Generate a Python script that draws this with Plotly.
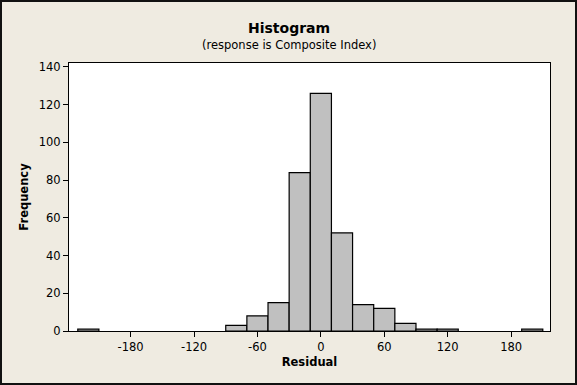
import plotly.graph_objects as go

bin_centers = [-220, -80, -60, -40, -20, 0, 20, 40, 60, 80, 100, 120, 200]
frequencies = [1, 3, 8, 15, 84, 126, 52, 14, 12, 4, 1, 1, 1]
x_tick_vals = [-180, -120, -60, 0, 60, 120, 180]
x_tick_text = ["-180", "-120", "-60", "0", "60", "120", "180"]
y_tick_vals = [0, 20, 40, 60, 80, 100, 120, 140]
bin_width = 20

FONT = "DejaVu Sans"
BG = "#EFEBE1"

fig = go.Figure()
fig.add_trace(go.Bar(
    x=bin_centers, y=frequencies, width=bin_width,
    marker=dict(color="#C0C0C0", line=dict(color="black", width=1.2)),
    hoverinfo="x+y",
))

W, H = 577, 385
L, R, T, B = 69, 27, 63, 54
pw, ph = W - L - R, H - T - B

def py(pixel_y):
    return (H - B - pixel_y) / ph

def px(pixel_x):
    return (pixel_x - L) / pw

fig.update_layout(
    width=W, height=H,
    margin=dict(l=L, r=R, t=T, b=B, pad=0),
    paper_bgcolor=BG, plot_bgcolor="white",
    showlegend=False,
    font=dict(family=FONT, size=11.5, color="black"),
    xaxis=dict(
        range=[-238.3, 216.8], tickvals=x_tick_vals, ticktext=x_tick_text,
        showline=True, mirror=True, linecolor="black", linewidth=1,
        ticks="outside", ticklen=5, tickcolor="black", tickwidth=1,
        showgrid=False, zeroline=False,
        title=dict(text="<b>Residual</b>", standoff=5, font=dict(size=11.5)),
        tickfont=dict(size=11.5),
    ),
    yaxis=dict(
        range=[0, 142.1], tickvals=y_tick_vals,
        showline=True, mirror=True, linecolor="black", linewidth=1,
        ticks="outside", ticklen=5, tickcolor="black", tickwidth=1,
        showgrid=False, zeroline=False,
        title=dict(text="<b>Frequency</b>", standoff=7, font=dict(size=11.5)),
        tickfont=dict(size=11.5),
    ),
)

fig.add_annotation(
    text="<b>Histogram</b>", xref="paper", yref="paper",
    x=px(288.5), y=py(28), xanchor="center", yanchor="middle",
    showarrow=False, font=dict(family=FONT, size=14, color="black"),
)
fig.add_annotation(
    text="(response is Composite Index)", xref="paper", yref="paper",
    x=px(288.5), y=py(45), xanchor="center", yanchor="middle",
    showarrow=False, font=dict(family=FONT, size=11.5, color="black"),
)

# outer frame around the whole image
fig.add_shape(
    type="rect", xref="paper", yref="paper",
    x0=-(L - 1) / pw, x1=1 + (R - 1) / pw,
    y0=-(B - 1) / ph, y1=1 + (T - 1) / ph,
    line=dict(color="#111111", width=2), fillcolor="rgba(0,0,0,0)", layer="above",
)

fig.write_html(
    "out.html",
    config={"displayModeBar": False},
    post_script="document.body.style.margin='0';document.body.style.overflow='hidden';",
)
